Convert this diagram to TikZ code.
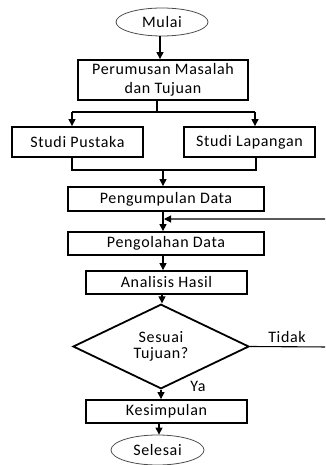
\documentclass[tikz,border=0pt]{standalone}
\usepackage{fontspec}
\setmainfont{Carlito}[LetterSpace=4]
\usetikzlibrary{shapes.geometric,arrows.meta}
\begin{document}
\begin{tikzpicture}[x=1pt,y=-1pt,
  every node/.style={font=\fontsize{16}{17}\selectfont, text=black},
  box/.style={draw=black, line width=1.8pt, rectangle, inner sep=0pt, align=center},
  term/.style={draw=black!70, line width=0.8pt, ellipse, inner sep=0pt},
  dec/.style={draw=black, line width=1.8pt, diamond, inner sep=0pt, align=center},
  conn/.style={draw=black, line width=1.1pt},
  arr/.style={conn, -{Triangle[length=7pt,width=7pt]}},
  lbl/.style={inner sep=0pt}]
\useasboundingbox (0,0) rectangle (325,465);
\clip (0,0) rectangle (325,465);

\node[term, minimum width=92pt, minimum height=28pt] (mulai) at (162,22) {Mulai};
\node[box, minimum width=170pt, minimum height=40pt, font=\fontsize{16}{19}\selectfont] (rumus) at (163,80) {Perumusan Masalah\\dan Tujuan};
\node[box, minimum width=131pt, minimum height=30pt] (pustaka) at (77.5,142) {Studi Pustaka};
\node[box, minimum width=131pt, minimum height=30pt] (lapangan) at (249.5,142) {Studi Lapangan};
\node[box, minimum width=196pt, minimum height=24pt] (kumpul) at (166,199) {Pengumpulan Data};
\node[box, minimum width=196pt, minimum height=23pt] (olah) at (166,243.5) {Pengolahan Data};
\node[box, minimum width=161pt, minimum height=23pt] (analisis) at (166.5,282.5) {Analisis Hasil};
\node[dec, minimum width=176pt, minimum height=67pt, font=\fontsize{16}{16}\selectfont] (sesuai) at (161,346.5) {Sesuai\\Tujuan?};
\node[box, minimum width=161pt, minimum height=23pt] (simpul) at (166.5,411.5) {Kesimpulan};
\node[term, minimum width=93pt, minimum height=30pt] (selesai) at (157.5,450) {Selesai};

\node[lbl] (tidak) at (287,337) {Tidak};
\node[lbl] (ya) at (198,386) {Ya};

\coordinate (split) at (157,112);
\coordinate (pl) at (72,112);
\coordinate (pr) at (255,112);
\coordinate (ml) at (72,170);
\coordinate (mr) at (256,170);
\coordinate (mc) at (163,170);
\coordinate (fb) at (164,219);
\coordinate (far) at (330,347);

\draw[arr] (mulai.south -| 160,0) -- (rumus.north -| 160,0);
\draw[conn] (rumus.south -| split) -- (split);
\draw[arr] (pl) -- (pustaka.north -| pl);
\draw[arr] (pr) -- (lapangan.north -| pr);
\draw[conn] (pl) -- (pr);
\draw[conn] (pustaka.south -| ml) -- (ml) -- (mr) -- (lapangan.south -| mr);
\draw[arr] (mc) -- (kumpul.north -| mc);
\draw[arr] (kumpul.south -| mc) -- (olah.north -| mc);
\draw[arr] (sesuai.east) -- (far) |- (fb);
\draw[arr] (olah.south -| mc) -- (analisis.north -| mc);
\draw[arr] (analisis.south -| 162,0) -- (sesuai.north -| 162,0);
\draw[arr] (sesuai.south -| 161,0) -- (simpul.north -| 161,0);
\draw[arr] (simpul.south -| 159,0) -- (selesai.north -| 159,0);
\end{tikzpicture}
\end{document}
